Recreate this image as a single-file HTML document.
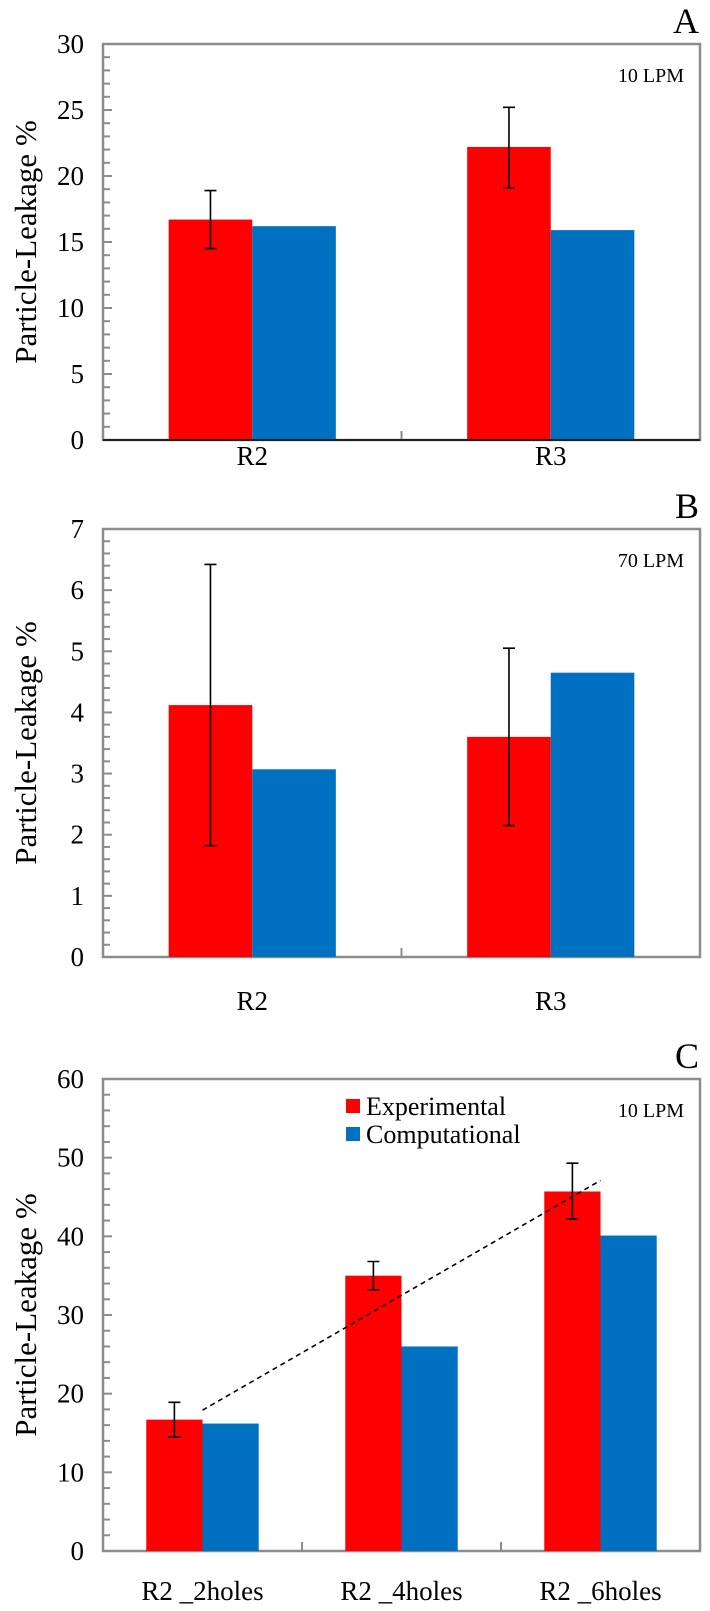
<!DOCTYPE html>
<html><head><meta charset="utf-8"><style>
html,body{margin:0;padding:0;background:#fff;}
svg{display:block;}
svg text{font-family:"Liberation Serif","Times New Roman",serif;}
</style></head><body>
<svg id="fig" width="710" height="1611" viewBox="0 0 710 1611" font-family="Liberation Serif, serif"></svg>
<script>
const catsA=["R2","R3"];
const expA=[16.7,22.2];
const errLoA=[14.5,19.1];
const errHiA=[18.9,25.2];
const compA=[16.2,15.9];
const ticksA=[0,5,10,15,20,25,30];

const catsB=["R2","R3"];
const expB=[4.12,3.6];
const errLoB=[1.82,2.15];
const errHiB=[6.42,5.05];
const compB=[3.07,4.65];
const ticksB=[0,1,2,3,4,5,6,7];

const catsC=["R2 _2holes","R2 _4holes","R2 _6holes"];
const expC=[16.7,35.0,45.7];
const errLoC=[14.5,33.2,42.2];
const errHiC=[18.9,36.8,49.3];
const compC=[16.2,26.0,40.1];
const ticksC=[0,10,20,30,40,50,60];
const trendC=[17.9,47.1];

const NS="http://www.w3.org/2000/svg";
const svg=document.getElementById('fig');
function mk(tag,attrs,parent){const e=document.createElementNS(NS,tag);for(const k in attrs)e.setAttribute(k,attrs[k]);if(tag==='text')e.setAttribute('font-family','Liberation Serif, serif');(parent||svg).appendChild(e);return e;}

function panel(o){
  const g=mk('g',{});
  
  
  const L=103,R=700,T=o.top,B=o.bottom;
  const y=v=>B-(v-o.min)/(o.max-o.min)*(B-T);
  const n=o.cats.length,cw=(R-L)/n;
  const bw=cw*o.barFrac/2;
  const cx=i=>L+cw*(i+0.5);
  const fr=mk('rect',{x:L,y:T,width:R-L,height:B-T,fill:'none',stroke:'#8c8c8c','stroke-width':2.5},g);
  
  
  for(let v=o.min;v<=o.max+1e-9;v+=o.minor){
    const t=mk('line',{x1:L,x2:L+(Math.abs((v/o.major)-Math.round(v/o.major))<1e-6?9:7),y1:y(v),y2:y(v),stroke:'#8c8c8c','stroke-width':2},g);
    
    
  }
  o.ticks.forEach(v=>{
    const t=mk('text',{x:84,y:y(v)+9,'text-anchor':'end','font-size':27},g);
    t.textContent=v;
    
    
  });
  for(let i=1;i<n;i++){
    const t=mk('line',{x1:L+cw*i,x2:L+cw*i,y1:B,y2:B-9,stroke:'#8c8c8c','stroke-width':2},g);
    
    
  }
  o.cats.forEach((c,i)=>{
    const r=mk('rect',{x:cx(i)-bw,y:y(o.exp[i]),width:bw,height:B-y(o.exp[i]),fill:'#ff0000'},g);
    
    
    const b=mk('rect',{x:cx(i),y:y(o.comp[i]),width:bw,height:B-y(o.comp[i]),fill:'#0070c0'},g);
    
    
    const ex=cx(i)-bw/2;
    const e=mk('path',{d:`M${ex},${y(o.lo[i])}V${y(o.hi[i])}M${ex-6},${y(o.lo[i])}H${ex+6}M${ex-6},${y(o.hi[i])}H${ex+6}`,stroke:'#000','stroke-width':1.6,fill:'none'},g);
    
    
    const t=mk('text',{x:cx(i),y:o.labY,'text-anchor':'middle','font-size':27},g);
    t.textContent=c;
    
    
  });
  if(o.darkAxis){
    const a=mk('line',{x1:L,x2:R,y1:B,y2:B,stroke:'#222','stroke-width':2},g);
    
    
  }
  const yt=mk('text',{x:0,y:0,'text-anchor':'middle','font-size':31,transform:`translate(36,${(T+B)/2}) rotate(-90)`},g);
  yt.textContent='Particle-Leakage %';
  
  
  const lt=mk('text',{x:699,y:T-11,'text-anchor':'end','font-size':36},g);
  lt.textContent=o.letter;
  
  
  const fl=mk('text',{x:684,y:T+38,'text-anchor':'end','font-size':20},g);
  fl.textContent=o.flow;
  
  
  return {g,y,cx,bw};
}

panel({name:'panel-a',top:44,bottom:440,min:0,max:30,minor:1,major:5,ticks:ticksA,cats:catsA,exp:expA,comp:compA,lo:errLoA,hi:errHiA,barFrac:0.56,labY:465,letter:'A',flow:'10 LPM',darkAxis:true});
panel({name:'panel-b',top:529,bottom:957,min:0,max:7,minor:0.2,major:1,ticks:ticksB,cats:catsB,exp:expB,comp:compB,lo:errLoB,hi:errHiB,barFrac:0.56,labY:1010,letter:'B',flow:'70 LPM',darkAxis:false});
const pc=panel({name:'panel-c',top:1079,bottom:1551,min:0,max:60,minor:2,major:10,ticks:ticksC,cats:catsC,exp:expC,comp:compC,lo:errLoC,hi:errHiC,barFrac:0.565,labY:1600,letter:'C',flow:'10 LPM',darkAxis:false});

const tl=mk('line',{x1:pc.cx(0),y1:pc.y(trendC[0]),x2:pc.cx(2),y2:pc.y(trendC[1]),stroke:'#000','stroke-width':1.6,'stroke-dasharray':'5,4'},pc.g);



const lg=mk('g',{},pc.g);


[['Experimental','#ff0000',1106],['Computational','#0070c0',1134]].forEach(([t,c,yy])=>{
  const s=mk('rect',{x:346,y:yy-7,width:14,height:14,fill:c},lg);
  
  
  const tx=mk('text',{x:366,y:yy+9,'font-size':26},lg);
  tx.textContent=t;
  
  
});
</script>
</body></html>
